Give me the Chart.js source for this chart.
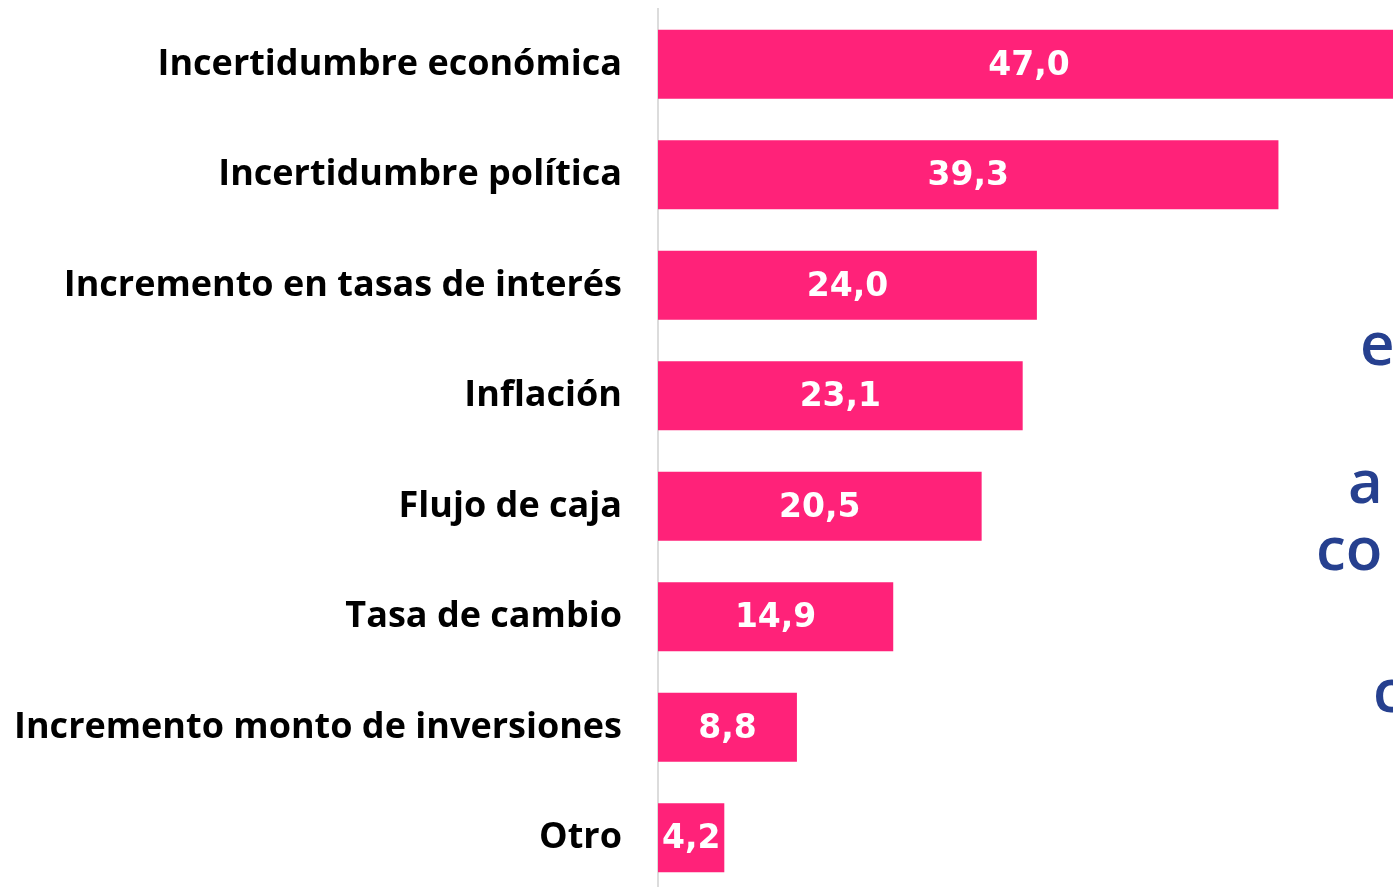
<!DOCTYPE html>
<html>
<head>
<meta charset="utf-8">
<script src="https://cdn.jsdelivr.net/npm/chart.js@4.4.1/dist/chart.umd.min.js"></script>
<style>
    html, body { margin: 0; padding: 0; background: #fff; overflow: hidden; }
    #wrap { position: relative; width: 1460px; height: 893px; }
    #factors-chart { display: block; }
    .side-text {
        position: absolute;
        font-family: "Open Sans", sans-serif;
        font-weight: 600;
        font-size: 60px;
        line-height: 60px;
        color: #26408f;
        white-space: nowrap;
    }
</style>
</head>
<body>
<div id="wrap">
    <canvas id="factors-chart" width="1460" height="893"></canvas>
    <div class="side-text" style="left:1360px; top:312px;">e</div>
    <div class="side-text" style="left:1348px; top:450px;">a</div>
    <div class="side-text" style="left:1316px; top:517px;">co</div>
    <div class="side-text" style="left:1373px; top:659px;">c</div>
</div>
<script>
const categories = [
    "Incertidumbre económica",
    "Incertidumbre política",
    "Incremento en tasas de interés",
    "Inflación",
    "Flujo de caja",
    "Tasa de cambio",
    "Incremento monto de inversiones",
    "Otro"
];
const percentages = [47.0, 39.3, 24.0, 23.1, 20.5, 14.9, 8.8, 4.2];

const barColor = '#ff2279';
const canvas = document.getElementById("factors-chart");

// etiquetas de valor centradas dentro de cada barra
const valueLabels = {
    id: 'valueLabels',
    afterDatasetsDraw(chart) {
        const ctx = chart.ctx;
        const meta = chart.getDatasetMeta(0);
        ctx.save();
        ctx.fillStyle = '#ffffff';
        ctx.font = 'bold 33px "DejaVu Sans", sans-serif';
        ctx.textAlign = 'center';
        ctx.textBaseline = 'middle';
        meta.data.forEach((bar, i) => {
            const cx = (bar.x + bar.base) / 2;
            ctx.fillText(percentages[i].toFixed(1).replace('.', ','), cx, bar.y + 2);
        });
        ctx.restore();
    }
};

new Chart(canvas, {
    type: 'bar',
    data: {
        labels: categories,
        datasets: [{
            data: percentages,
            backgroundColor: barColor,
            borderWidth: 0,
            barPercentage: 0.625,
            categoryPercentage: 1
        }]
    },
    options: {
        indexAxis: 'y',
        responsive: false,
        animation: false,
        devicePixelRatio: 1,
        layout: { padding: { top: 9, right: 0, bottom: 0, left: 0 } },
        plugins: {
            legend: { display: false },
            tooltip: { enabled: false }
        },
        scales: {
            x: {
                display: false,
                min: 0,
                max: 50.8
            },
            y: {
                grid: { display: false },
                border: { display: true, color: '#dcdcdc', width: 2 },
                ticks: {
                    color: '#000',
                    padding: 28,
                    font: { family: '"Open Sans", sans-serif', weight: 'bold', size: 36 }
                },
                afterFit(scale) {
                    scale.width = 658;
                    scale.paddingTop = 0;
                    scale.paddingBottom = 0;
                }
            }
        }
    },
    plugins: [valueLabels]
});
</script>
</body>
</html>
